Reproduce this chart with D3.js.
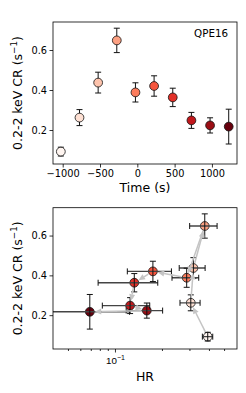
<!DOCTYPE html>
<html>
<head>
<meta charset="utf-8">
<script src="https://cdn.jsdelivr.net/npm/d3@7"></script>
<style>
  body { margin: 0; background: #fff; }
  svg { display: block; font-family: "DejaVu Sans", sans-serif; }
</style>
</head>
<body>
<div id="chart"></div>
<script>
// Werte
const time = [-1025, -775, -525, -275, -25, 225, 475, 725, 975, 1225];
const rate = [0.092, 0.262, 0.437, 0.648, 0.388, 0.42, 0.363, 0.248, 0.223, 0.217];
const rateErr = [0.022, 0.04, 0.052, 0.061, 0.048, 0.051, 0.046, 0.04, 0.038, 0.087];
const hr = [0.393, 0.306, 0.318, 0.376, 0.288, 0.175, 0.133, 0.125, 0.16, 0.069];
const hrErr = [0.03, 0.045, 0.06, 0.075, 0.056, 0.055, 0.055, 0.042, 0.042, 0.055];

const timeTicks = [-1000, -500, 0, 500, 1000];
const rateTicks = [0.2, 0.4, 0.6];
const hrMajor = [0.1];
const hrMinor = [0.05, 0.06, 0.07, 0.08, 0.09, 0.2, 0.3, 0.4, 0.5];
const label = "QPE16";

const W = 246, H = 393;
const svg = d3.select("#chart").append("svg")
    .attr("width", W)
    .attr("height", H);

const color = i => d3.interpolateReds(i / (time.length - 1));
const r = 4.4;

// gemeinsame y-Skala (gleicher Wertebereich in beiden Panels)
function yScale(top, bottom) {
    return d3.scaleLinear().domain([0.03, 0.74]).range([bottom, top]);
}

function yLabel(cy) {
    const t = svg.append("text")
        .attr("transform", `translate(22,${cy}) rotate(-90)`)
        .attr("text-anchor", "middle")
        .attr("font-size", 12.5)
        .attr("fill", "#000");
    t.append("tspan").text("0.2-2 keV CR (s");
    t.append("tspan").text("−1").attr("font-size", 8.8).attr("dy", -5);
    t.append("tspan").text(")").attr("dy", 5);
}

function styleAxis(g) {
    g.select(".domain").remove();
    g.selectAll(".tick line").attr("stroke", "#000").attr("stroke-width", 0.8);
    g.selectAll(".tick text").attr("font-size", 9.8).attr("fill", "#000").attr("font-family", "DejaVu Sans");
}

// ---------- oberes Panel: Lichtkurve ----------
const L = 53, R = 237;
const top1 = 22, bot1 = 164;
const x1 = d3.scaleLinear().domain([-1130, 1336]).range([L, R]);
const y1 = yScale(top1, bot1);

svg.append("g")
    .attr("transform", `translate(0,${bot1})`)
    .call(d3.axisBottom(x1).tickValues(timeTicks).tickSize(3.5).tickPadding(2.5).tickFormat(d3.format("d")))
    .call(styleAxis);

svg.append("g")
    .attr("transform", `translate(${L},0)`)
    .call(d3.axisLeft(y1).tickValues(rateTicks).tickSize(3.5).tickPadding(2.5).tickFormat(d3.format(".1f")))
    .call(styleAxis);

const g1 = svg.append("g");
time.forEach((t, i) => {
    const cx = x1(t);
    g1.append("line")
        .attr("x1", cx).attr("x2", cx)
        .attr("y1", y1(rate[i] - rateErr[i])).attr("y2", y1(rate[i] + rateErr[i]))
        .attr("stroke", "#111").attr("stroke-width", 1);
    [rate[i] - rateErr[i], rate[i] + rateErr[i]].forEach(v => {
        g1.append("line")
            .attr("x1", cx - 3).attr("x2", cx + 3)
            .attr("y1", y1(v)).attr("y2", y1(v))
            .attr("stroke", "#111").attr("stroke-width", 1);
    });
});
g1.selectAll("circle")
    .data(time)
    .enter()
    .append("circle")
    .attr("cx", d => x1(d))
    .attr("cy", (d, i) => y1(rate[i]))
    .attr("r", r)
    .attr("fill", (d, i) => color(i))
    .attr("stroke", "#111")
    .attr("stroke-width", 0.8);

svg.append("rect")
    .attr("x", L).attr("y", top1)
    .attr("width", R - L).attr("height", bot1 - top1)
    .attr("fill", "none").attr("stroke", "#000").attr("stroke-width", 0.8);

svg.append("text")
    .attr("x", R - 9).attr("y", 37)
    .attr("text-anchor", "end")
    .attr("font-size", 10.3)
    .text(label);

svg.append("text")
    .attr("x", (L + R) / 2).attr("y", 192)
    .attr("text-anchor", "middle")
    .attr("font-size", 12.5)
    .text("Time (s)");

yLabel((top1 + bot1) / 2);

// ---------- unteres Panel: HR vs. Zählrate ----------
const top2 = 207.7, bot2 = 349;
const x2 = d3.scaleLog().domain([0.0401, 0.605]).range([L, R]);
const y2 = yScale(top2, bot2);

svg.append("defs").append("clipPath").attr("id", "clip2")
    .append("rect").attr("x", L).attr("y", top2).attr("width", R - L).attr("height", bot2 - top2);

svg.append("g")
    .attr("transform", `translate(0,${bot2})`)
    .call(d3.axisBottom(x2).tickValues(hrMinor).tickSize(2).tickFormat(""))
    .call(styleAxis);

const majorAx = svg.append("g")
    .attr("transform", `translate(0,${bot2})`)
    .call(d3.axisBottom(x2).tickValues(hrMajor).tickSize(3.5).tickFormat(""))
    .call(styleAxis);
majorAx.selectAll(".tick").each(function () {
    const t = d3.select(this).append("text")
        .attr("y", 14.5)
        .attr("text-anchor", "middle")
        .attr("font-size", 9.8)
        .attr("fill", "#000");
    t.append("tspan").text("10");
    t.append("tspan").text("−1").attr("font-size", 7).attr("dy", -4);
});

svg.append("g")
    .attr("transform", `translate(${L},0)`)
    .call(d3.axisLeft(y2).tickValues(rateTicks).tickSize(3.5).tickPadding(2.5).tickFormat(d3.format(".1f")))
    .call(styleAxis);

const g2 = svg.append("g").attr("clip-path", "url(#clip2)");

// Marker
g2.selectAll("circle")
    .data(hr)
    .enter()
    .append("circle")
    .attr("cx", d => x2(d))
    .attr("cy", (d, i) => y2(rate[i]))
    .attr("r", r)
    .attr("fill", (d, i) => color(i))
    .attr("stroke", "#111")
    .attr("stroke-width", 0.8);

// Fehlerbalken (über den Markern)
hr.forEach((h, i) => {
    const cx = x2(h), cy = y2(rate[i]);
    const xa = x2(Math.max(h - hrErr[i], 0.001)), xb = x2(h + hrErr[i]);
    g2.append("line")
        .attr("x1", xa).attr("x2", xb).attr("y1", cy).attr("y2", cy)
        .attr("stroke", "#444").attr("stroke-width", 1.4);
    [xa, xb].forEach(xx => {
        g2.append("line")
            .attr("x1", xx).attr("x2", xx).attr("y1", cy - 3).attr("y2", cy + 3)
            .attr("stroke", "#111").attr("stroke-width", 1);
    });
    const ya = y2(rate[i] - rateErr[i]), yb = y2(rate[i] + rateErr[i]);
    g2.append("line")
        .attr("x1", cx).attr("x2", cx).attr("y1", ya).attr("y2", yb)
        .attr("stroke", "#111").attr("stroke-width", 1);
    [ya, yb].forEach(yy => {
        g2.append("line")
            .attr("x1", cx - 3).attr("x2", cx + 3).attr("y1", yy).attr("y2", yy)
            .attr("stroke", "#111").attr("stroke-width", 1);
    });
});

// Pfeile zwischen aufeinanderfolgenden Punkten
const arrows = svg.append("g").attr("clip-path", "url(#clip2)");
for (let i = 0; i < hr.length - 1; i++) {
    const ax = x2(hr[i]), ay = y2(rate[i]);
    const bx = x2(hr[i + 1]), by = y2(rate[i + 1]);
    const dx = bx - ax, dy = by - ay;
    const len = Math.hypot(dx, dy);
    const ux = dx / len, uy = dy / len;
    const sx = ax + ux * (r + 1), sy = ay + uy * (r + 1);
    const tx = bx - ux * (r + 0.5), ty = by - uy * (r + 0.5);
    const headL = 6.5, headW = 3;
    const hx = tx - ux * headL, hy = ty - uy * headL;
    arrows.append("line")
        .attr("x1", sx).attr("y1", sy).attr("x2", hx).attr("y2", hy)
        .attr("stroke", "#c4c4c4").attr("stroke-width", 1.5);
    arrows.append("path")
        .attr("d", `M${tx},${ty}L${hx - uy * headW},${hy + ux * headW}L${hx + uy * headW},${hy - ux * headW}Z`)
        .attr("fill", "#c4c4c4");
}

svg.append("rect")
    .attr("x", L).attr("y", top2)
    .attr("width", R - L).attr("height", bot2 - top2)
    .attr("fill", "none").attr("stroke", "#000").attr("stroke-width", 0.8);

svg.append("text")
    .attr("x", (L + R) / 2).attr("y", 381)
    .attr("text-anchor", "middle")
    .attr("font-size", 12.5)
    .text("HR");

yLabel((top2 + bot2) / 2);
</script>
</body>
</html>
